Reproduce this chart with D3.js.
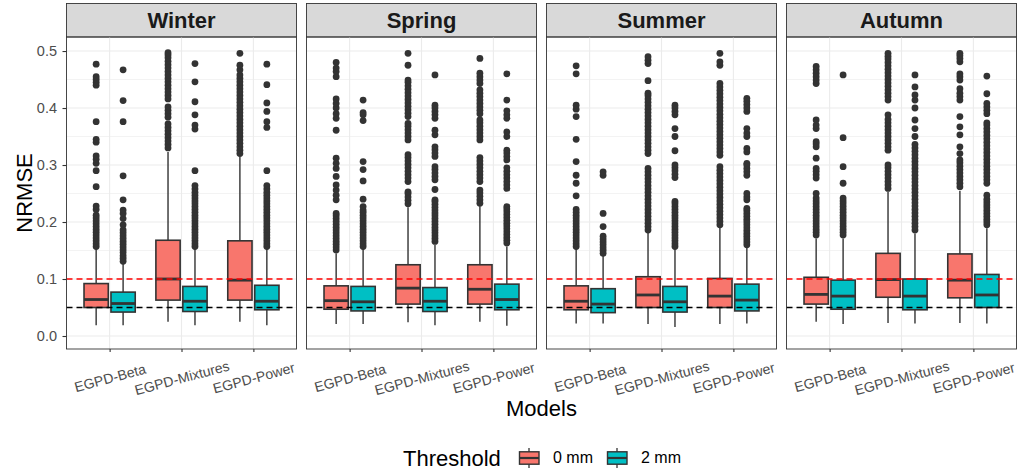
<!DOCTYPE html>
<html>
<head>
<meta charset="utf-8">
<script src="https://cdn.jsdelivr.net/npm/d3@7"></script>
<style>
  body { margin: 0; background: #fff; }
  svg { display: block; font-family: 'Liberation Sans', Arial, sans-serif; }
</style>
</head>
<body>
<div id="chart"></div>
<script>
var seasons = ['Winter', 'Spring', 'Summer', 'Autumn'];
var models = ['EGPD-Beta', 'EGPD-Mixtures', 'EGPD-Power'];
var thresholds = ['0 mm', '2 mm'];
var yTicks = [0, 0.1, 0.2, 0.3, 0.4, 0.5];
var yMinor = [0.05, 0.15, 0.25, 0.35, 0.45];
var refLines = [{ value: 0.1, color: '#ff0000' }, { value: 0.05, color: '#000000' }];

// box stats per season: [lower whisker, q1, median, q3, upper whisker]
// order: Beta 0mm, Beta 2mm, Mixtures 0mm, Mixtures 2mm, Power 0mm, Power 2mm
var winterStats = [
  [0.019, 0.050, 0.064, 0.092, 0.154],
  [0.019, 0.042, 0.057, 0.077, 0.128],
  [0.025, 0.063, 0.100, 0.168, 0.323],
  [0.019, 0.043, 0.061, 0.087, 0.154],
  [0.025, 0.063, 0.098, 0.167, 0.315],
  [0.019, 0.046, 0.061, 0.089, 0.154]
];
var springStats = [
  [0.021, 0.047, 0.062, 0.088, 0.145],
  [0.021, 0.044, 0.060, 0.087, 0.154],
  [0.024, 0.056, 0.084, 0.125, 0.226],
  [0.019, 0.043, 0.061, 0.085, 0.160],
  [0.025, 0.056, 0.082, 0.125, 0.228],
  [0.018, 0.046, 0.064, 0.091, 0.157]
];
var summerStats = [
  [0.022, 0.046, 0.061, 0.088, 0.154],
  [0.022, 0.041, 0.056, 0.083, 0.142],
  [0.021, 0.050, 0.072, 0.104, 0.182],
  [0.016, 0.042, 0.060, 0.087, 0.152],
  [0.021, 0.050, 0.070, 0.101, 0.192],
  [0.022, 0.044, 0.063, 0.091, 0.157]
];
var autumnStats = [
  [0.025, 0.056, 0.073, 0.103, 0.171],
  [0.021, 0.047, 0.070, 0.098, 0.171],
  [0.023, 0.068, 0.099, 0.145, 0.253],
  [0.022, 0.046, 0.070, 0.100, 0.180],
  [0.023, 0.067, 0.098, 0.144, 0.255],
  [0.022, 0.050, 0.072, 0.108, 0.189]
];

var winterOutliers = [
  [0.157,0.162,0.167,0.172,0.177,0.182,0.187,0.192,0.197,0.202,0.207,0.212,0.222,0.228,0.262,0.29,0.303,0.31,0.316,0.34,0.345,0.376,0.44,0.445,0.45,0.455,0.477],
  [0.131,0.136,0.141,0.146,0.151,0.156,0.161,0.166,0.171,0.176,0.181,0.186,0.195,0.206,0.215,0.221,0.239,0.281,0.376,0.413,0.467],
  [0.33,0.336,0.342,0.348,0.354,0.36,0.366,0.372,0.384,0.39,0.396,0.402,0.416,0.422,0.428,0.434,0.44,0.446,0.452,0.458,0.464,0.47,0.476,0.482,0.488,0.493,0.497],
  [0.157,0.162,0.167,0.172,0.177,0.182,0.187,0.192,0.197,0.202,0.207,0.212,0.217,0.222,0.227,0.232,0.237,0.242,0.247,0.252,0.258,0.264,0.29,0.363,0.37,0.388,0.411,0.446,0.478],
  [0.32,0.326,0.332,0.338,0.344,0.35,0.356,0.362,0.368,0.374,0.38,0.386,0.392,0.398,0.404,0.41,0.416,0.422,0.428,0.434,0.44,0.446,0.452,0.458,0.467,0.475,0.496],
  [0.157,0.162,0.167,0.172,0.177,0.182,0.187,0.192,0.197,0.202,0.207,0.212,0.217,0.222,0.227,0.232,0.237,0.242,0.247,0.252,0.258,0.264,0.29,0.366,0.376,0.394,0.409,0.441,0.477]
];
var springOutliers = [
  [0.151,0.156,0.161,0.166,0.171,0.176,0.181,0.186,0.191,0.196,0.201,0.206,0.211,0.215,0.239,0.247,0.256,0.265,0.28,0.294,0.303,0.312,0.361,0.382,0.39,0.4,0.408,0.416,0.455,0.464,0.47,0.48],
  [0.157,0.162,0.167,0.172,0.177,0.182,0.187,0.192,0.197,0.202,0.207,0.212,0.217,0.221,0.227,0.24,0.272,0.292,0.306,0.378,0.388,0.392,0.414],
  [0.232,0.238,0.244,0.25,0.253,0.271,0.277,0.283,0.289,0.295,0.301,0.307,0.313,0.318,0.344,0.35,0.356,0.362,0.368,0.373,0.385,0.391,0.397,0.403,0.409,0.415,0.421,0.427,0.433,0.439,0.445,0.449,0.475,0.496],
  [0.166,0.171,0.176,0.181,0.186,0.191,0.196,0.201,0.206,0.211,0.216,0.221,0.226,0.231,0.236,0.239,0.257,0.274,0.28,0.286,0.292,0.297,0.315,0.321,0.327,0.332,0.353,0.361,0.382,0.388,0.394,0.4,0.405,0.458],
  [0.233,0.239,0.245,0.251,0.256,0.271,0.277,0.283,0.289,0.295,0.301,0.307,0.313,0.344,0.35,0.356,0.362,0.368,0.374,0.379,0.39,0.396,0.402,0.408,0.414,0.42,0.426,0.432,0.443,0.449,0.455,0.461,0.487],
  [0.163,0.168,0.173,0.178,0.183,0.188,0.193,0.198,0.203,0.208,0.213,0.218,0.223,0.227,0.259,0.265,0.271,0.277,0.283,0.289,0.295,0.309,0.315,0.321,0.326,0.35,0.358,0.382,0.388,0.395,0.414,0.46]
];
var summerOutliers = [
  [0.157,0.162,0.167,0.172,0.177,0.182,0.187,0.192,0.197,0.202,0.207,0.212,0.217,0.222,0.246,0.268,0.282,0.306,0.345,0.385,0.398,0.405,0.46,0.474],
  [0.145,0.15,0.155,0.16,0.165,0.17,0.175,0.192,0.215,0.282,0.288],
  [0.186,0.192,0.198,0.204,0.21,0.216,0.222,0.228,0.234,0.24,0.246,0.252,0.258,0.264,0.27,0.276,0.282,0.288,0.294,0.32,0.326,0.332,0.338,0.344,0.35,0.356,0.362,0.368,0.374,0.38,0.386,0.392,0.398,0.404,0.41,0.416,0.422,0.426,0.448,0.478,0.484,0.49],
  [0.157,0.162,0.167,0.172,0.177,0.182,0.187,0.192,0.197,0.202,0.207,0.212,0.217,0.222,0.227,0.232,0.236,0.278,0.284,0.29,0.295,0.3,0.325,0.35,0.364,0.388,0.394,0.4,0.405],
  [0.195,0.201,0.207,0.213,0.219,0.225,0.231,0.237,0.243,0.249,0.255,0.261,0.267,0.273,0.279,0.285,0.291,0.297,0.317,0.323,0.329,0.335,0.341,0.347,0.353,0.359,0.365,0.371,0.377,0.383,0.389,0.395,0.401,0.407,0.413,0.419,0.425,0.431,0.437,0.443,0.475,0.481,0.496],
  [0.16,0.165,0.17,0.175,0.18,0.185,0.19,0.195,0.2,0.205,0.21,0.215,0.22,0.224,0.239,0.244,0.25,0.282,0.288,0.294,0.3,0.303,0.323,0.329,0.35,0.356,0.364,0.394,0.4,0.406,0.412,0.417]
];
var autumnOutliers = [
  [0.177,0.182,0.187,0.192,0.197,0.202,0.207,0.212,0.217,0.222,0.227,0.232,0.237,0.242,0.25,0.277,0.283,0.289,0.294,0.312,0.332,0.337,0.341,0.364,0.37,0.379,0.443,0.449,0.455,0.461,0.467,0.473],
  [0.177,0.182,0.187,0.192,0.197,0.202,0.207,0.212,0.217,0.222,0.227,0.232,0.237,0.242,0.268,0.297,0.348,0.458],
  [0.259,0.265,0.271,0.277,0.283,0.289,0.295,0.3,0.326,0.332,0.338,0.344,0.35,0.356,0.362,0.368,0.374,0.38,0.388,0.414,0.42,0.426,0.432,0.438,0.444,0.45,0.456,0.462,0.468,0.474,0.48,0.486,0.491,0.496],
  [0.186,0.192,0.198,0.204,0.21,0.216,0.222,0.228,0.234,0.24,0.246,0.252,0.258,0.264,0.27,0.276,0.282,0.288,0.294,0.3,0.306,0.312,0.318,0.324,0.33,0.336,0.35,0.364,0.379,0.4,0.414,0.423,0.437,0.458],
  [0.262,0.268,0.274,0.28,0.286,0.292,0.298,0.304,0.309,0.32,0.332,0.353,0.367,0.385,0.414,0.42,0.426,0.434,0.449,0.455,0.46,0.481,0.487,0.492,0.496],
  [0.195,0.2,0.205,0.21,0.215,0.22,0.225,0.23,0.235,0.24,0.247,0.268,0.274,0.28,0.286,0.292,0.298,0.304,0.31,0.316,0.322,0.328,0.334,0.34,0.346,0.352,0.358,0.364,0.37,0.374,0.39,0.396,0.402,0.408,0.425,0.456]
];

var allStats = [winterStats, springStats, summerStats, autumnStats];
var allOutliers = [winterOutliers, springOutliers, summerOutliers, autumnOutliers];

var WIDTH = 1017;
var HEIGHT = 472;
var PANEL_LEFT = 66.5;
var PANEL_WIDTH = 230;
var PANEL_STEP = 240;
var STRIP_TOP = 3.5;
var PANEL_TOP = 37;
var PANEL_BOTTOM = 349;
var COLORS = ['#F8766D', '#00BFC4'];
var INK = '#333333';
var GRID = '#EBEBEB';
var TEXT_GREY = '#4D4D4D';

var svg = d3.select('#chart').append('svg')
  .attr('width', WIDTH)
  .attr('height', HEIGHT);

var yScale = d3.scaleLinear().domain([-0.0228, 0.5246]).range([PANEL_BOTTOM, PANEL_TOP]);
var xScale = d3.scalePoint().domain(models).range([0, PANEL_WIDTH]).padding(0.6);
var step = xScale.step();
var dodge = d3.scaleBand().domain(thresholds).range([-0.375 * step, 0.375 * step]);
var boxWidth = dodge.bandwidth() * 0.9;

function drawPanel(si) {
  var g = svg.append('g')
    .attr('transform', 'translate(' + (PANEL_LEFT + si * PANEL_STEP) + ',0)');

  // strip
  g.append('rect')
    .attr('x', 0).attr('y', STRIP_TOP)
    .attr('width', PANEL_WIDTH).attr('height', PANEL_TOP - STRIP_TOP)
    .attr('fill', '#D9D9D9').attr('stroke', INK).attr('stroke-width', 0.9);
  g.append('text')
    .attr('x', PANEL_WIDTH / 2).attr('y', 28.3)
    .attr('text-anchor', 'middle')
    .attr('font-size', 22).attr('font-weight', 'bold').attr('fill', '#1A1A1A')
    .text(seasons[si]);

  // grid
  g.selectAll('.minor').data(yMinor).enter().append('line')
    .attr('x1', 0).attr('x2', PANEL_WIDTH)
    .attr('y1', function (d) { return yScale(d); })
    .attr('y2', function (d) { return yScale(d); })
    .attr('stroke', GRID).attr('stroke-width', 0.6);
  g.selectAll('.major').data(yTicks).enter().append('line')
    .attr('x1', 0).attr('x2', PANEL_WIDTH)
    .attr('y1', function (d) { return yScale(d); })
    .attr('y2', function (d) { return yScale(d); })
    .attr('stroke', GRID).attr('stroke-width', 1.1);
  g.selectAll('.vgrid').data(models).enter().append('line')
    .attr('x1', function (d) { return xScale(d); })
    .attr('x2', function (d) { return xScale(d); })
    .attr('y1', PANEL_TOP).attr('y2', PANEL_BOTTOM)
    .attr('stroke', GRID).attr('stroke-width', 1.1);

  // boxes
  var boxes = [];
  models.forEach(function (m, mi) {
    thresholds.forEach(function (t, ti) {
      boxes.push({
        x: xScale(m) + dodge(t) + dodge.bandwidth() / 2,
        fill: COLORS[ti],
        s: allStats[si][mi * 2 + ti],
        out: allOutliers[si][mi * 2 + ti]
      });
    });
  });

  var box = g.selectAll('.box').data(boxes).enter().append('g').attr('class', 'box');
  box.append('line')
    .attr('x1', function (d) { return d.x; }).attr('x2', function (d) { return d.x; })
    .attr('y1', function (d) { return yScale(d.s[0]); })
    .attr('y2', function (d) { return yScale(d.s[1]); })
    .attr('stroke', INK).attr('stroke-width', 1.4);
  box.append('line')
    .attr('x1', function (d) { return d.x; }).attr('x2', function (d) { return d.x; })
    .attr('y1', function (d) { return yScale(d.s[3]); })
    .attr('y2', function (d) { return yScale(d.s[4]); })
    .attr('stroke', INK).attr('stroke-width', 1.4);
  box.selectAll('circle').data(function (d) {
    return d.out.map(function (v) { return { x: d.x, v: v }; });
  }).enter().append('circle')
    .attr('cx', function (d) { return d.x; })
    .attr('cy', function (d) { return yScale(d.v); })
    .attr('r', 3.4)
    .attr('fill', INK);
  box.append('rect')
    .attr('x', function (d) { return d.x - boxWidth / 2; })
    .attr('y', function (d) { return yScale(d.s[3]); })
    .attr('width', boxWidth)
    .attr('height', function (d) { return yScale(d.s[1]) - yScale(d.s[3]); })
    .attr('fill', function (d) { return d.fill; })
    .attr('stroke', INK).attr('stroke-width', 1.6);
  box.append('line')
    .attr('x1', function (d) { return d.x - boxWidth / 2; })
    .attr('x2', function (d) { return d.x + boxWidth / 2; })
    .attr('y1', function (d) { return yScale(d.s[2]); })
    .attr('y2', function (d) { return yScale(d.s[2]); })
    .attr('stroke', INK).attr('stroke-width', 2.8);

  // reference lines
  g.selectAll('.ref').data(refLines).enter().append('line')
    .attr('x1', 0).attr('x2', PANEL_WIDTH)
    .attr('y1', function (d) { return yScale(d.value); })
    .attr('y2', function (d) { return yScale(d.value); })
    .attr('stroke', function (d) { return d.color; })
    .attr('stroke-width', 1.3)
    .attr('stroke-dasharray', '6,4');

  // border
  g.append('rect')
    .attr('x', 0).attr('y', PANEL_TOP)
    .attr('width', PANEL_WIDTH).attr('height', PANEL_BOTTOM - PANEL_TOP)
    .attr('fill', 'none').attr('stroke', INK).attr('stroke-width', 0.9);

  // x axis
  var xAxis = g.append('g')
    .attr('transform', 'translate(0,' + PANEL_BOTTOM + ')')
    .call(d3.axisBottom(xScale).tickSize(3));
  xAxis.select('.domain').remove();
  xAxis.selectAll('line').attr('stroke', INK).attr('stroke-width', 1.1);
  xAxis.selectAll('text')
    .attr('y', 0).attr('dy', '0.35em')
    .attr('transform', 'translate(0,29) rotate(-15)')
    .attr('font-size', 14)
    .attr('font-family', "'Liberation Sans', Arial, sans-serif")
    .attr('fill', TEXT_GREY);

  if (si === 0) {
    var yAxis = g.append('g')
      .call(d3.axisLeft(yScale).tickValues(yTicks).tickSize(4).tickPadding(5.5)
        .tickFormat(d3.format('.1f')));
    yAxis.select('.domain').remove();
    yAxis.selectAll('line').attr('stroke', INK).attr('stroke-width', 1.1);
    yAxis.selectAll('text')
      .attr('font-size', 14.5)
      .attr('font-family', "'Liberation Sans', Arial, sans-serif")
      .attr('fill', TEXT_GREY);
  }
}

seasons.forEach(function (s, i) { drawPanel(i); });

// axis titles
svg.append('text')
  .attr('transform', 'translate(32,' + ((PANEL_TOP + PANEL_BOTTOM) / 2) + ') rotate(-90)')
  .attr('text-anchor', 'middle')
  .attr('font-size', 22)
  .text('NRMSE');
svg.append('text')
  .attr('x', PANEL_LEFT + (3 * PANEL_STEP + PANEL_WIDTH) / 2)
  .attr('y', 416)
  .attr('text-anchor', 'middle')
  .attr('font-size', 22)
  .text('Models');

// legend
var legend = svg.append('g');
legend.append('text')
  .attr('x', 403).attr('y', 466)
  .attr('font-size', 22)
  .text('Threshold');
var keyX = [519, 607];
var key = legend.selectAll('.key').data(thresholds).enter().append('g')
  .attr('transform', function (d, i) { return 'translate(' + keyX[i] + ',448)'; });
key.append('line')
  .attr('x1', 10).attr('x2', 10).attr('y1', 0).attr('y2', 20)
  .attr('stroke', INK).attr('stroke-width', 1.3);
key.append('rect')
  .attr('x', 0.5).attr('y', 3.8).attr('width', 19.5).attr('height', 12.4)
  .attr('fill', function (d, i) { return COLORS[i]; })
  .attr('stroke', INK).attr('stroke-width', 1.4);
key.append('line')
  .attr('x1', 0.5).attr('x2', 20).attr('y1', 10).attr('y2', 10)
  .attr('stroke', INK).attr('stroke-width', 2.2);
key.append('text')
  .attr('x', 34).attr('y', 15.3)
  .attr('font-size', 16)
  .text(function (d) { return d; });
</script>
</body>
</html>
